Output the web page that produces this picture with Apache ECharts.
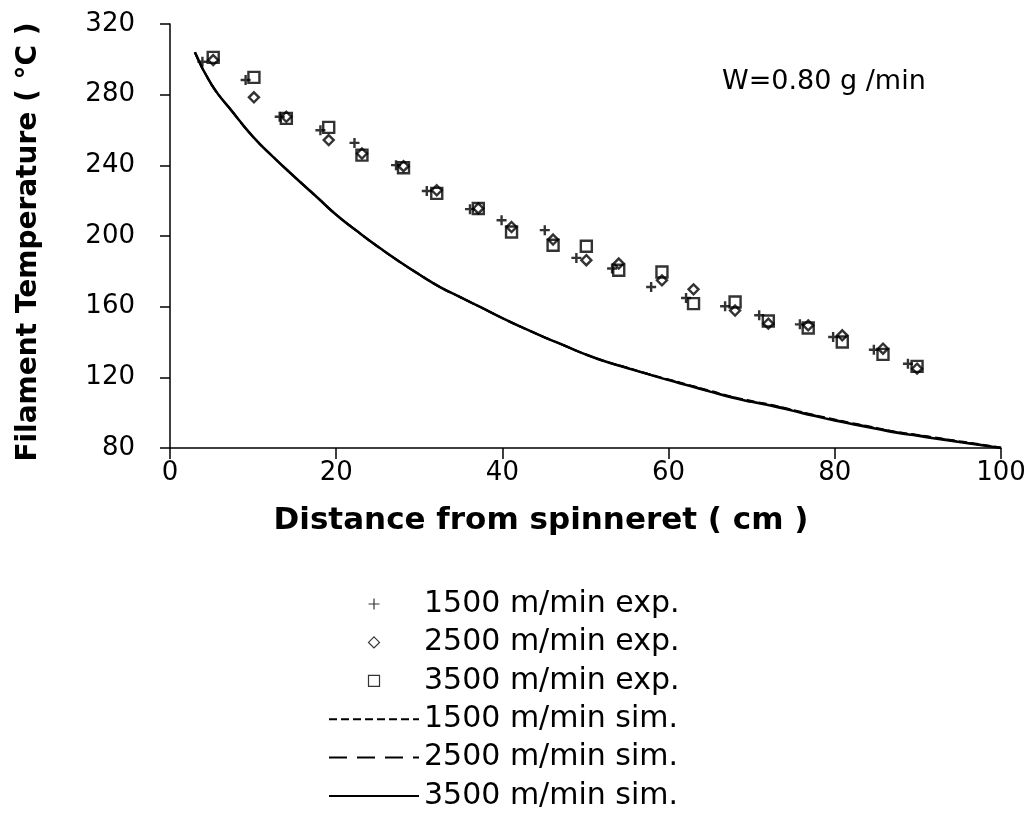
<!DOCTYPE html>
<html>
<head>
<meta charset="utf-8">
<title>Filament temperature</title>
<script src="https://cdn.jsdelivr.net/npm/echarts@6.0.0/dist/echarts.min.js"></script>
<style>
  html, body { margin: 0; padding: 0; background: #fff; }
  #chart { width: 1036px; height: 813px; }
</style>
</head>
<body>
<div id="chart"></div>
<script>
// measured points, distance (cm) / temperature (°C)
const exp1500X = [3.9, 9.1, 13.2, 18.1, 22.2, 27.2, 30.9, 36.1, 39.9, 45.1, 48.9, 53.2, 57.9, 62.1, 66.8, 70.9, 75.8, 79.8, 84.7, 88.8];
const exp1500T = [298.6, 288.3, 267.5, 259.9, 252.7, 240.1, 225.5, 215.2, 208.9, 203.3, 187.6, 181.6, 171.1, 164.9, 160.2, 155.1, 150.0, 142.8, 135.6, 127.7];

const exp2500X = [5.2, 10.1, 14.0, 19.1, 23.1, 28.1, 32.1, 37.1, 41.1, 46.1, 50.1, 54.0, 59.2, 63.0, 68.0, 72.0, 76.8, 80.9, 85.8, 89.9];
const exp2500T = [299.6, 278.5, 267.5, 254.3, 246.7, 239.5, 225.9, 215.6, 205.1, 198.0, 186.3, 184.4, 174.9, 169.8, 157.8, 150.4, 149.4, 143.8, 136.2, 124.9];

const exp3500X = [5.2, 10.1, 14.0, 19.1, 23.1, 28.1, 32.1, 37.1, 41.1, 46.1, 50.1, 54.0, 59.2, 63.0, 68.0, 72.0, 76.8, 80.9, 85.8, 89.9];
const exp3500T = [301.1, 289.8, 266.6, 261.5, 245.8, 238.6, 224.1, 215.6, 202.3, 194.8, 194.2, 180.6, 179.6, 161.7, 162.6, 151.9, 147.9, 140.0, 133.0, 126.2];

// simulated curves
const simX = [3, 5, 7.5, 10, 12.5, 15, 17.5, 20, 22.5, 25, 27.5, 30, 32.5, 35, 37.5, 40, 42.5, 45, 47.5, 50,
              52.5, 55, 57.5, 60, 62.5, 65, 67.5, 70, 72.5, 75, 77.5, 80, 82.5, 85, 87.5, 90, 92.5, 95, 97.5, 100];
const sim3500T = [304, 285.7, 270.4, 256.1, 244.4, 233.4, 222.8, 212, 202.8, 194, 185.8, 178.2, 171.1, 165.2, 159.4, 153.5, 148, 142.8, 137.9, 133,
                  128.8, 125.3, 121.8, 118.4, 115.2, 111.9, 108.7, 106.1, 103.8, 101, 98.2, 95.6, 93.2, 90.9, 88.6, 86.9, 85.1, 83.4, 81.7, 80];
const sim2500T = [304, 285.7, 270.4, 256.1, 244.4, 233.4, 222.8, 212, 202.8, 194, 185.8, 178.2, 171.1, 165.2, 159.4, 153.5, 148, 142.8, 137.9, 133,
                  128.8, 125.4, 121.9, 118.6, 115.4, 112.1, 109, 106.4, 104.1, 101.3, 98.5, 95.9, 93.5, 91.2, 88.9, 87.2, 85.4, 83.6, 81.9, 80.1];
const sim1500T = [304, 285.7, 270.4, 256.1, 244.4, 233.4, 222.8, 212, 202.8, 194, 185.8, 178.2, 171.1, 165.2, 159.4, 153.5, 148, 142.8, 137.9, 133,
                  128.9, 125.5, 122, 118.8, 115.6, 112.4, 109.2, 106.6, 104.3, 101.5, 98.7, 96.1, 93.7, 91.4, 89.1, 87.4, 85.6, 83.8, 82.1, 80.2];

const xTicks = { min: 0, max: 100, step: 20 };
const yTicks = { min: 80, max: 320, step: 40 };

const zip = (xs, ys) => xs.map((x, i) => [x, ys[i]]);

const plusIcon = 'path://M5,0L5,10M0,5L10,5';
const diamondIcon = 'path://M5,0L10,5L5,10L0,5Z';
const squareIcon = 'path://M0,0L10,0L10,10L0,10Z';

const font = 'DejaVu Sans';
const chart = echarts.init(document.getElementById('chart'));

const hollow = {
  color: 'rgba(0,0,0,0)',
  borderColor: '#000',
  borderWidth: 2.4
};
// legend line icons: hide the dot ECharts puts in the middle
const noDot = { color: 'rgba(0,0,0,0)', borderWidth: 0 };

const option = {
  animation: false,
  backgroundColor: '#fff',
  title: {
    text: 'W=0.80 g /min',
    left: 717,
    top: 63,
    textStyle: { fontFamily: font, fontSize: 27, fontWeight: 'normal', color: '#000' }
  },
  legend: {
    orient: 'vertical',
    left: 328,
    top: 589,
    padding: 0,
    itemWidth: 90,
    itemHeight: 11,
    itemGap: 8.4,
    textStyle: { fontFamily: font, fontSize: 30, color: '#000' },
    itemStyle: { borderWidth: 1.2 },
    data: [
      { name: '1500 m/min exp.', icon: plusIcon },
      { name: '2500 m/min exp.', icon: diamondIcon },
      { name: '3500 m/min exp.', icon: squareIcon },
      { name: '1500 m/min sim.', itemStyle: noDot },
      { name: '2500 m/min sim.', itemStyle: noDot },
      { name: '3500 m/min sim.', itemStyle: noDot }
    ]
  },
  grid: { left: 170, right: 35, top: 24, bottom: 365 },
  xAxis: {
    type: 'value',
    min: xTicks.min,
    max: xTicks.max,
    interval: xTicks.step,
    name: 'Distance from spinneret ( cm )',
    nameLocation: 'middle',
    nameGap: 57,
    nameTextStyle: { fontFamily: font, fontSize: 31, fontWeight: 'bold', color: '#000', padding: [0, 89, 0, 0] },
    axisLine: { onZero: false, lineStyle: { color: '#000', width: 1.5 } },
    axisTick: { inside: false, length: 11, lineStyle: { color: '#000', width: 1.5 } },
    axisLabel: { margin: 12, fontFamily: font, fontSize: 26, color: '#000' },
    splitLine: { show: false }
  },
  yAxis: {
    type: 'value',
    min: yTicks.min,
    max: yTicks.max,
    interval: yTicks.step,
    name: 'Filament Temperature ( °C )',
    nameLocation: 'middle',
    nameGap: 127,
    nameTextStyle: { fontFamily: font, fontSize: 28, fontWeight: 'bold', color: '#000', padding: [0, 12, 0, 0] },
    axisLine: { show: true, onZero: false, lineStyle: { color: '#000', width: 1.5 } },
    axisTick: { show: true, inside: false, length: 10, lineStyle: { color: '#000', width: 1.5 } },
    axisLabel: { margin: 35, fontFamily: font, fontSize: 26, color: '#000' },
    splitLine: { show: false }
  },
  series: [
    {
      name: '1500 m/min sim.',
      type: 'line',
      data: zip(simX, sim1500T),
      symbol: 'none',
      smooth: true,
      itemStyle: { color: '#000' },
      lineStyle: { color: '#000', width: 2, type: [8, 4] },
      z: 2
    },
    {
      name: '2500 m/min sim.',
      type: 'line',
      data: zip(simX, sim2500T),
      symbol: 'none',
      smooth: true,
      itemStyle: { color: '#000' },
      lineStyle: { color: '#000', width: 2, type: [18, 10] },
      z: 2
    },
    {
      name: '3500 m/min sim.',
      type: 'line',
      data: zip(simX, sim3500T),
      symbol: 'none',
      smooth: true,
      itemStyle: { color: '#000' },
      lineStyle: { color: '#000', width: 2.5, type: 'solid' },
      z: 3
    },
    {
      name: '1500 m/min exp.',
      type: 'scatter',
      data: zip(exp1500X, exp1500T),
      symbol: plusIcon,
      symbolSize: 10,
      itemStyle: hollow,
      z: 4
    },
    {
      name: '2500 m/min exp.',
      type: 'scatter',
      data: zip(exp2500X, exp2500T),
      symbol: diamondIcon,
      symbolSize: 10,
      itemStyle: hollow,
      z: 4
    },
    {
      name: '3500 m/min exp.',
      type: 'scatter',
      data: zip(exp3500X, exp3500T),
      symbol: squareIcon,
      symbolSize: 11,
      itemStyle: hollow,
      z: 4
    }
  ]
};

chart.setOption(option);
</script>
</body>
</html>
